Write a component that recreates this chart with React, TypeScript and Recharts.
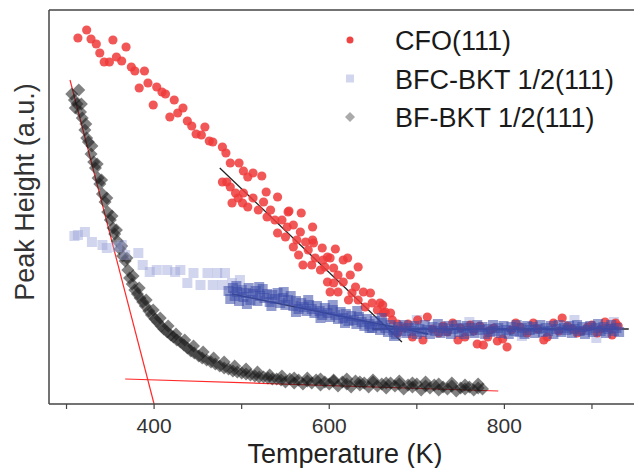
import React from "react";
import {
  ScatterChart,
  Scatter,
  XAxis,
  YAxis,
  ReferenceLine,
  Label,
} from "recharts";

// ─── Data: [temperature (K), peak height (a.u.)] ──────────────────────────

const cfoPoints: [number, number][] = [
  [313, 366], [323, 374], [328, 365], [334, 360], [338, 351], [343, 342], [349, 342],
  [353, 364], [357, 347], [363, 343], [368, 357], [374, 337], [378, 333], [383, 316],
  [389, 333], [393, 321], [399, 299], [403, 317], [409, 312], [413, 310], [418, 287],
  [423, 304], [427, 291], [433, 296], [438, 283], [443, 278], [448, 270], [454, 269],
  [458, 277], [463, 263], [467, 262], [478, 257], [482, 251], [487, 241], [497, 241],
  [502, 233], [507, 227], [513, 231], [523, 228], [528, 212], [541, 207], [554, 193],
  [568, 191], [581, 177],
  [478, 222], [483, 222], [487, 217], [493, 211], [489, 201], [496, 206], [502, 211],
  [501, 201], [507, 197], [513, 206], [519, 194], [525, 202], [533, 194], [529, 187],
  [538, 184], [546, 184], [553, 192], [552, 177], [559, 179], [567, 172], [541, 171],
  [550, 167], [563, 164], [573, 162], [581, 164], [592, 156], [559, 157], [565, 149],
  [576, 154], [584, 146], [570, 139], [593, 144], [601, 146], [607, 155], [595, 137],
  [605, 136], [616, 144], [582, 161], [580, 139], [598, 147], [621, 146], [590, 134],
  [610, 129], [624, 129], [633, 137], [598, 122], [605, 121], [616, 122], [630, 117],
  [601, 112], [610, 112], [626, 111], [639, 112], [647, 111], [622, 104], [633, 104],
  [649, 101], [658, 101], [641, 97], [655, 94], [662, 91], [670, 91], [661, 99], [664, 92],
  [672, 84], [678, 80], [678, 71], [685, 76], [690, 80], [695, 67], [701, 84], [707, 64],
  [712, 87], [718, 75], [725, 71], [730, 78], [735, 72], [741, 81], [747, 64], [750, 76],
  [755, 67], [761, 79], [765, 73], [769, 60], [772, 78], [776, 59], [781, 67], [784, 74],
  [788, 76], [792, 63], [798, 65], [803, 57], [808, 74], [813, 81], [818, 77], [826, 71],
  [833, 81], [838, 75], [845, 64], [849, 67], [856, 81], [862, 73], [866, 86], [872, 78],
  [878, 75], [883, 71], [888, 73], [895, 77], [900, 79], [906, 71], [910, 75], [915, 82],
  [920, 76], [923, 69], [927, 81], [930, 78],
];

const bfcLightPoints: [number, number][] = [
  [309, 168], [313, 169], [321, 172], [329, 162], [341, 159], [346, 156], [358, 157],
  [363, 159], [367, 149], [382, 151], [387, 139], [395, 132], [403, 134], [415, 134],
  [424, 132], [430, 134], [438, 121], [445, 131], [453, 119], [461, 131], [467, 119],
  [472, 131], [478, 119], [481, 131], [489, 121], [498, 124],
  [700, 84], [760, 82], [820, 68], [880, 84], [905, 66], [925, 82],
];

const bfcDensePoints: [number, number][] = [
  [485, 113], [487, 105], [490, 116], [492, 108], [495, 112], [497, 103], [500, 114],
  [502, 107], [505, 111], [508, 116], [510, 104], [513, 110], [516, 113], [518, 103],
  [521, 108], [524, 115], [526, 106], [529, 110], [532, 102], [535, 109], [538, 105],
  [541, 111], [544, 101], [547, 106], [550, 99], [553, 104], [556, 108], [559, 98],
  [562, 103], [565, 95], [568, 101], [571, 97], [574, 93], [577, 99], [580, 95], [583, 91],
  [586, 98], [589, 93], [592, 89], [595, 96], [598, 91], [601, 87], [604, 94], [607, 89],
  [610, 85], [613, 92], [616, 86], [619, 90], [622, 83], [625, 88], [628, 84], [631, 80],
  [634, 87], [637, 82], [640, 78], [643, 85], [646, 80], [649, 76], [652, 83], [655, 78],
  [658, 74], [661, 81], [664, 76], [667, 72], [670, 79], [673, 74], [676, 70], [679, 77],
  [682, 73], [685, 79], [688, 71], [691, 76], [694, 73], [697, 78], [700, 70], [703, 75],
  [706, 72], [709, 79], [712, 74], [715, 70], [718, 77], [721, 73], [724, 80], [727, 71],
  [730, 76], [733, 73], [736, 78], [739, 70], [742, 75], [745, 79], [748, 72], [751, 76],
  [754, 70], [757, 78], [760, 73], [763, 76], [766, 71], [769, 79], [772, 74], [775, 77],
  [778, 70], [781, 75], [784, 72], [787, 79], [790, 73], [793, 76], [796, 71], [799, 78],
  [802, 74], [805, 70], [808, 77], [811, 73], [814, 79], [817, 72], [820, 76], [823, 70],
  [826, 78], [829, 74], [832, 77], [835, 71], [838, 75], [841, 79], [844, 72], [847, 76],
  [850, 73], [853, 78], [856, 70], [859, 75], [862, 79], [865, 72], [868, 76], [871, 74],
  [874, 78], [877, 71], [880, 75], [883, 79], [886, 73], [889, 77], [892, 70], [895, 74],
  [898, 78], [901, 72], [904, 76], [907, 80], [910, 73], [913, 77], [916, 71], [919, 75],
  [922, 79], [925, 73], [928, 76], [931, 72],
  // second pass through the slope, a little wider spread
  [494, 118], [506, 100], [520, 117], [534, 98], [548, 112], [562, 92], [576, 104],
  [590, 86], [604, 99], [618, 81], [632, 93], [646, 76], [660, 86], [674, 68],
];

const bfPoints: [number, number][] = [
  [306, 310], [309, 304], [312, 300], [314, 314], [316, 292], [318, 286], [321, 274],
  [323, 266], [325, 262], [328, 250], [331, 242], [333, 236], [336, 226], [338, 220],
  [341, 210], [344, 202], [347, 192], [350, 184], [353, 176], [355, 170], [358, 163],
  [361, 155], [364, 148], [367, 143], [370, 134], [372, 126], [375, 120], [378, 114],
  [381, 110], [384, 106], [387, 102], [390, 98], [394, 93], [397, 89], [401, 85], [404, 82],
  [408, 78], [411, 75], [415, 72], [419, 69], [422, 67], [426, 64], [430, 62], [434, 59],
  [438, 56], [442, 53], [446, 51], [451, 48], [455, 46], [460, 44], [465, 42], [470, 40],
  [475, 38], [480, 36], [485, 35], [490, 33], [495, 32], [500, 31], [505, 30], [510, 29],
  [515, 28], [520, 27], [525, 27], [530, 26], [535, 25], [540, 25], [545, 24], [550, 22],
  [555, 25], [560, 21], [565, 24], [570, 20], [575, 23], [580, 21], [585, 24], [590, 19],
  [595, 22], [600, 20], [605, 24], [610, 18], [615, 22], [620, 20], [625, 17], [630, 23],
  [635, 19], [640, 21], [645, 17], [650, 22], [655, 18], [660, 20], [665, 16], [670, 21],
  [675, 18], [680, 20], [685, 15], [690, 19], [695, 17], [700, 20], [705, 14], [710, 18],
  [715, 16], [720, 19], [725, 14], [730, 17], [735, 15], [740, 18], [745, 13], [750, 16],
  [755, 15], [760, 17], [765, 14], [770, 16], [775, 15],
  // second, slightly offset run of the same sample
  [310, 296], [317, 300], [322, 280], [329, 258], [335, 240], [340, 224], [346, 206],
  [352, 188], [357, 174], [363, 158], [369, 146], [376, 128], [383, 116], [391, 104],
  [399, 94], [407, 86], [416, 78], [425, 70], [435, 64], [445, 58], [456, 52], [468, 46],
  [480, 42], [492, 38], [505, 35], [518, 32], [532, 29], [546, 28], [560, 26], [575, 26],
  [590, 25], [605, 23], [620, 25], [635, 22], [650, 24], [665, 21], [680, 23], [695, 21],
  [710, 22], [725, 20], [740, 21], [755, 19], [770, 20],
];

// linear fits drawn over the data
const redFits: [number, number][][] = [
  [[304, 324], [400, 0]],
  [[367, 25], [793, 13]],
];
const blackFits: [number, number][][] = [
  [[475, 236], [683, 62]],
  [[489, 110], [713, 70]],
  [[649, 75], [942, 75]],
];

const xTicks = [300, 400, 500, 600, 700, 800, 900];
const xLabels = [400, 600, 800];

const legendItems = [
  { name: "CFO(111)", kind: "circle" },
  { name: "BFC-BKT 1/2(111)", kind: "square" },
  { name: "BF-BKT 1/2(111)", kind: "diamond" },
];

// ─── Helpers ───────────────────────────────────────────────────────────────

const FONT = "'Liberation Sans', Arial, sans-serif";
const toPts = (a: [number, number][]) => a.map(([x, y]) => ({ x, y }));

const circleShape = (props: any) => (
  <circle cx={props.cx} cy={props.cy} r={4.6} fill="#ee3a3a" fillOpacity={0.85} />
);
const squareShape = (fill: string, opacity: number) => (props: any) => (
  <rect x={props.cx - 5} y={props.cy - 5} width={10} height={10} fill={fill} fillOpacity={opacity} />
);
const diamondShape = (props: any) => {
  const { cx, cy } = props;
  const d = 6.5;
  return (
    <polygon
      points={`${cx},${cy - d} ${cx + d},${cy} ${cx},${cy + d} ${cx - d},${cy}`}
      fill="#1a1a1a"
      fillOpacity={0.55}
    />
  );
};

function Overlay() {
  return (
    <svg width={634} height={468} style={{ position: "absolute", left: 0, top: 0, pointerEvents: "none" }}>
      <text
        transform="translate(34,192) rotate(-90)"
        textAnchor="middle"
        fontSize={27}
        fontFamily={FONT}
        fill="#333"
      >
        Peak Height (a.u.)
      </text>
      {legendItems.map((item, i) => {
        const cy = 40 + i * 38.5;
        let sym: React.ReactNode = null;
        if (item.kind === "circle") sym = <circle cx={350} cy={cy} r={3.5} fill="#ee4444" />;
        if (item.kind === "square") sym = <rect x={346} y={cy - 4} width={8} height={8} fill="#d2d5ee" />;
        if (item.kind === "diamond")
          sym = <polygon points={`350,${cy - 5} 355,${cy} 350,${cy + 5} 345,${cy}`} fill="#aaaaaa" />;
        return (
          <g key={item.name}>
            {sym}
            <text x={395} y={cy + 10} fontSize={27} fontFamily={FONT} fill="#1a1a1a">
              {item.name}
            </text>
          </g>
        );
      })}
    </svg>
  );
}

export default function App() {
  return (
    <div style={{ position: "absolute", left: 0, top: 0, width: 634, height: 468, background: "#fff" }}>
      <ScatterChart width={634} height={468} margin={{ top: 10, right: 0, left: 49, bottom: 0 }}>
        <XAxis
          type="number"
          dataKey="x"
          domain={[280, 948]}
          ticks={xTicks}
          tickFormatter={(v) => (xLabels.includes(v) ? String(v) : "")}
          tickSize={5}
          tickMargin={9}
          height={64}
          axisLine={{ stroke: "#444", strokeWidth: 1.5 }}
          tickLine={{ stroke: "#444", strokeWidth: 1.2 }}
          tick={{ fontSize: 21, fill: "#333", fontFamily: FONT }}
          allowDataOverflow
        >
          <Label
            content={() => (
              <text x={345} y={463} textAnchor="middle" fontSize={27} fontFamily={FONT} fill="#222">
                Temperature (K)
              </text>
            )}
          />
        </XAxis>
        <YAxis type="number" dataKey="y" domain={[0, 394]} hide allowDataOverflow />
        <ReferenceLine y={394} stroke="#444" strokeWidth={1.5} />
        <ReferenceLine x={280} stroke="#444" strokeWidth={1.5} />

        <Scatter data={toPts(bfPoints)} shape={diamondShape} isAnimationActive={false} />
        <Scatter data={toPts(bfcLightPoints)} shape={squareShape("#9aa2d6", 0.45)} isAnimationActive={false} />
        <Scatter data={toPts(cfoPoints)} shape={circleShape} isAnimationActive={false} />
        <Scatter data={toPts(bfcDensePoints)} shape={squareShape("#3a4aa8", 0.55)} isAnimationActive={false} />

        {redFits.map((seg, i) => (
          <ReferenceLine
            key={"r" + i}
            segment={seg.map(([x, y]) => ({ x, y }))}
            stroke="#ff2a2a"
            strokeWidth={1.2}
          />
        ))}
        {blackFits.map((seg, i) => (
          <ReferenceLine
            key={"b" + i}
            segment={seg.map(([x, y]) => ({ x, y }))}
            stroke="#222"
            strokeWidth={1.3}
          />
        ))}
      </ScatterChart>
      <Overlay />
    </div>
  );
}
